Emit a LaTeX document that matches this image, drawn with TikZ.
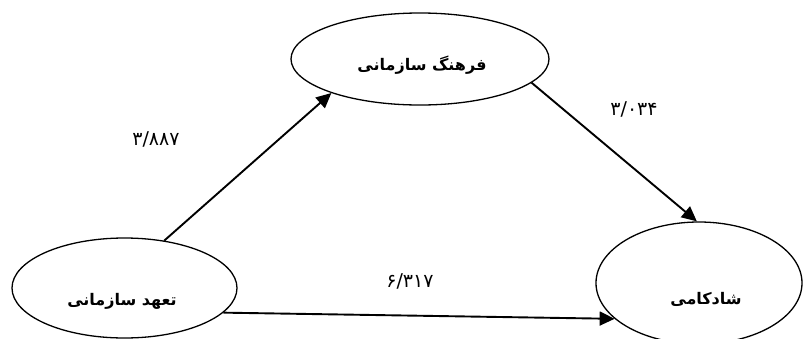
\documentclass[tikz,border=0pt]{standalone}
\usepackage{fontspec}
\TeXXeTstate=1
\newfontfamily\arabicfont[Script=Arabic]{DejaVu Sans}
\usetikzlibrary{shapes.geometric,arrows.meta}
\begin{document}
\begin{tikzpicture}[x=1pt,y=-1pt,
  oval/.style={draw, line width=1.3pt, ellipse, inner sep=0pt},
  lbl/.style={font=\arabicfont\bfseries\fontsize{16}{18}\selectfont, inner sep=0pt},
  num/.style={font=\arabicfont\fontsize{19}{21}\selectfont, inner sep=0pt},
  arr/.style={line width=1.9pt, -{Triangle[length=15pt,width=14pt]}}]
\clip (0,0) rectangle (804,338);
\node[oval, minimum width=258pt, minimum height=92pt] (cul) at (420,59) {};
\node[oval, minimum width=225pt, minimum height=100pt] (com) at (124.5,288) {};
\node[oval, minimum width=206pt, minimum height=122pt] (hap) at (699,283) {};
\node[lbl] (tcul) at (422,65) {\beginR فرهنگ سازمانی\endR};
\node[lbl] (tcom) at (122,301) {\beginR تعهد سازمانی\endR};
\node[lbl] (thap) at (706,299) {\beginR شادکامی\endR};
\draw[arr] (com.50) -- (cul.201);
\draw[arr] (cul.-12) -- (hap.92);
\draw[arr] (com.-14) -- (hap.203);
\node[num] (n1) at (156,139) {۳/۸۸۷};
\node[num] (n2) at (634,109) {۳/۰۳۴};
\node[num] (n3) at (410,281) {۶/۳۱۷};
\end{tikzpicture}
\end{document}
